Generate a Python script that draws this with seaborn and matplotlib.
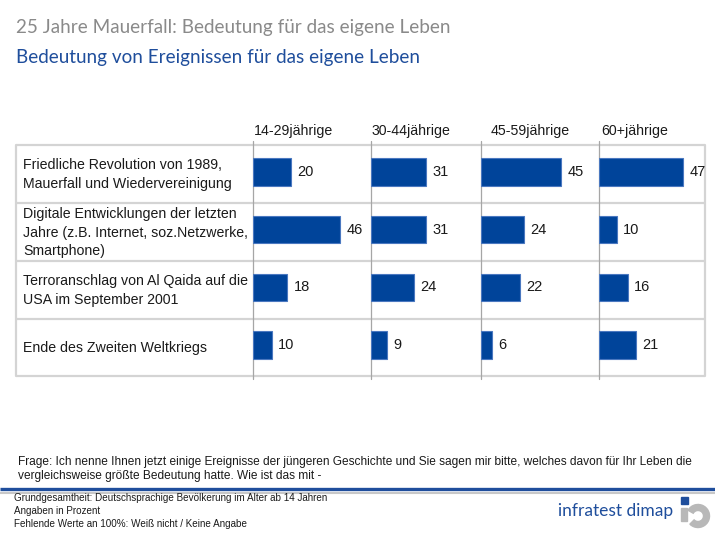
import matplotlib
matplotlib.use("Agg")
import matplotlib.pyplot as plt
import seaborn as sns
import pandas as pd
from matplotlib.patches import Wedge, Rectangle

sns.set_theme(style="white")
plt.rcParams['font.family'] = ['Liberation Sans', 'DejaVu Sans']

title = "25 Jahre Mauerfall: Bedeutung für das eigene Leben"
subtitle = "Bedeutung von Ereignissen für das eigene Leben"
categories = [
    "Friedliche Revolution von 1989,\nMauerfall und Wiedervereinigung",
    "Digitale Entwicklungen der letzten\nJahre (z.B. Internet, soz.Netzwerke,\nSmartphone)",
    "Terroranschlag von Al Qaida auf die\nUSA im September 2001",
    "Ende des Zweiten Weltkriegs",
]
groups = ["14-29jährige", "30-44jährige", "45-59jährige", "60+jährige"]
v_14_29 = [20, 46, 18, 10]
v_30_44 = [31, 31, 24, 9]
v_45_59 = [45, 24, 22, 6]
v_60p = [47, 10, 16, 21]
values = [v_14_29, v_30_44, v_45_59, v_60p]

question = ("Frage: Ich nenne Ihnen jetzt einige Ereignisse der jüngeren Geschichte und Sie sagen mir bitte, welches davon für Ihr Leben die\n"
            "vergleichsweise größte Bedeutung hatte. Wie ist das mit -")
footer = ("Grundgesamtheit: Deutschsprachige Bevölkerung im Alter ab 14 Jahren\n"
          "Angaben in Prozent\n"
          "Fehlende Werte an 100%: Weiß nicht / Keine Angabe")

W, H = 715, 537
fig = plt.figure(figsize=(W / 100, H / 100), dpi=100)

bg = fig.add_axes([0, 0, 1, 1])
bg.set_xlim(0, W)
bg.set_ylim(H, 0)
bg.axis("off")

BAR = "#00449a"
GRID = "#d4d4d4"
top, bottom = 145, 376
rows = [145, 203, 261, 319, 376]
left, right = 16, 705
col_x = [253, 371, 481, 599, 705]
label_x = [254, 372, 491, 601]

for y in rows:
    bg.plot([left, right], [y, y], color=GRID, lw=1.6, solid_capstyle="butt")
bg.plot([left, left], [top, bottom], color=GRID, lw=1.6)
bg.plot([right, right], [top, bottom], color=GRID, lw=1.6)
for x in col_x[:4]:
    bg.plot([x, x], [141, 379], color="#a6a6a6", lw=0.9)

for i, cat in enumerate(categories):
    yc = (rows[i] + rows[i + 1]) / 2 + 0.5
    bg.text(23, yc, cat, fontsize=10.2, color="#1a1a1a", va="center", ha="left", linespacing=1.45)

for g, x in zip(groups, label_x):
    bg.text(x, 131, g, fontsize=10.2, color="#1a1a1a", va="center", ha="left")

bg.text(16, 28, title, fontsize=13.6, color="#8a8a8a", va="center", ha="left", family=["Lato", "DejaVu Sans"])
bg.text(16, 58, subtitle, fontsize=13.6, color="#1f4e9c", va="center", ha="left", family=["Lato", "DejaVu Sans"])

bg.text(18, 469, question, fontsize=8.6, color="#1a1a1a", va="center", ha="left", linespacing=1.3)
bg.plot([0, W], [488.5, 488.5], color="#1f4e9c", lw=2.4, solid_capstyle="butt")
bg.plot([0, W], [492.5, 492.5], color="#c8c8c8", lw=1.5, solid_capstyle="butt")
bg.text(14, 511, footer, fontsize=7.1, color="#1a1a1a", va="center", ha="left", linespacing=1.35)

bg.text(558, 511, "infratest dimap", fontsize=12.5, color="#1f4e9c", va="center", ha="left", family=["Lato", "DejaVu Sans"])
bg.add_patch(Wedge((698, 516), 11.5, -150, 135, width=6, color="#b8b8b8"))
bg.add_patch(Rectangle((681, 508), 6, 13, color="#b8b8b8"))
bg.add_patch(Rectangle((681, 497), 6.5, 6.5, color="#1f4e9c"))

for gi in range(4):
    x0, x1 = col_x[gi], col_x[gi + 1]
    ax = fig.add_axes([x0 / W, 1 - (bottom - 2) / H, (x1 - x0) / W, (bottom - top) / H])
    ax.patch.set_alpha(0)
    df = pd.DataFrame({"cat": list(range(4)), "val": values[gi]})
    sns.barplot(data=df, x="val", y="cat", orient="h", color=BAR, width=0.48,
                saturation=1, edgecolor="#4a78c0", linewidth=0.8, ax=ax)
    scale = 1.9 if gi == 0 else 1.785
    ax.set_xlim(0, (x1 - x0) / scale)
    ax.set_ylim(3.5, -0.5)
    ax.bar_label(ax.containers[0], labels=[str(v) for v in values[gi]], padding=4.5,
                 fontsize=10.5, color="#1a1a1a")
    ax.axis("off")

fig.savefig("out.png", dpi=100)
